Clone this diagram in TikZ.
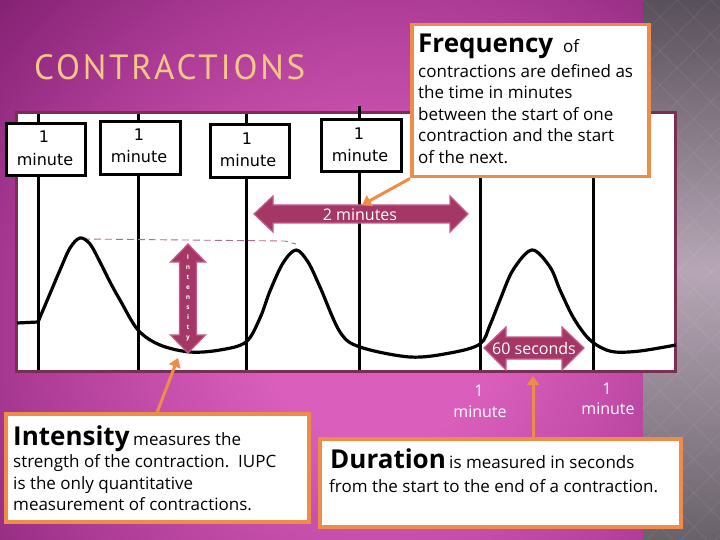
\documentclass[tikz,border=0pt]{standalone}
\usepackage{fontspec}
\setmainfont{Open Sans}
\newfontfamily\labfont{DejaVu Sans}
\newfontfamily\titlefont[LetterSpace=8]{PT Sans}
\usetikzlibrary{arrows.meta,calc}
\definecolor{bgdark}{HTML}{7B1B6B}
\definecolor{bgmid}{HTML}{AD3C97}
\definecolor{bglight}{HTML}{DA5FBC}
\definecolor{grayd}{HTML}{58505A}
\definecolor{grayl}{HTML}{B7A7B6}
\definecolor{panelc}{HTML}{7A2D55}
\definecolor{orangec}{HTML}{EE8C4A}
\definecolor{arrowc}{HTML}{A53767}
\definecolor{arrowe}{HTML}{C65C8C}
\definecolor{dashc}{HTML}{B3688F}
\definecolor{titlec}{HTML}{F6C887}
\pgfdeclareradialshading{bgshade}{\pgfpoint{0bp}{0bp}}{color(0bp)=(bglight); color(7bp)=(bglight); color(21bp)=(bgmid); color(33bp)=(bgdark); color(50bp)=(bgdark)}
\begin{document}
\begin{tikzpicture}[x=1pt,y=-1pt,
  minbox/.style={draw=black, line width=3, fill=white, inner sep=0},
  minlab/.style={font=\labfont\fontsize{16}{18}\selectfont, inner sep=0},
  obox/.style={draw=orangec, line width=3.5, fill=white, inner sep=0, anchor=north west},
  body/.style={font=\fontsize{17}{20}\selectfont, inner sep=0, anchor=base west},
  big/.style={font=\bfseries\fontsize{26}{30}\selectfont, inner sep=0, anchor=base west},
  vline/.style={line width=3, black},
  blockarrow/.style={fill=arrowc, draw=arrowe, line width=1.2},
  arrowtext/.style={font=\fontsize{16}{18}\selectfont, text=white, inner sep=0},
  callout/.style={draw=orangec, line width=3, -{Triangle[length=9,width=12]}},
  whitelab/.style={font=\fontsize{16}{18}\selectfont, text=white, inner sep=0}
]
\useasboundingbox (0,0) rectangle (720,540);
% background
\begin{scope}
\clip (0,0) rectangle (643,540);
\shade[shading=bgshade] (-40,-70) rectangle (800,730);
\end{scope}
\shade[top color=grayd, bottom color=grayd!90!white, middle color=grayl] (643,0) rectangle (720,540);
\begin{scope}
\clip (643,0) rectangle (720,540);
\foreach \k in {-20,...,20} {
  \draw[white, opacity=0.07, line width=0.8] (643+\k*34,0) -- ++(540,540);
  \draw[white, opacity=0.07, line width=0.8] (643+\k*34,0) -- ++(-540,540);
}
\end{scope}
% title
\node[font=\titlefont\fontsize{35}{38}\selectfont, text=titlec, inner sep=0, anchor=west] (title) at (34,67) {CONTRACTIONS};
% panel
\draw[line width=3, draw=panelc, fill=white] (16,113) rectangle (675,371);
% vertical lines
\foreach \x/\n in {38/a,138/b,246/c,480/e,593/f} {
  \coordinate (t\n) at (\x,114);
  \coordinate (b\n) at (\x,370);
  \draw[vline] (t\n) -- (b\n);
}
\coordinate (td) at (359,106);
\coordinate (bd) at (359,370);
\draw[vline] (td) -- (bd);
% minute boxes
\node[minbox, minimum width=79, minimum height=52, anchor=north west] (m1) at (5,122) {};
\node[minbox, minimum width=80, minimum height=53, anchor=north west] (m2) at (99,120) {};
\node[minbox, minimum width=79, minimum height=53, anchor=north west] (m3) at (209,123) {};
\node[minbox, minimum width=80, minimum height=52, anchor=north west] (m4) at (320,118) {};
\node[minlab] (m1a) at (44,137) {1};
\node[minlab] (m1b) at (45,160) {minute};
\node[minlab] (m2a) at (139,135) {1};
\node[minlab] (m2b) at (139,157) {minute};
\node[minlab] (m3a) at (247,139) {1};
\node[minlab] (m3b) at (248,161) {minute};
\node[minlab] (m4a) at (359,134) {1};
\node[minlab] (m4b) at (360,156) {minute};
% dashed level line
\coordinate (d1) at (83,239);
\coordinate (d2) at (285,241);
\coordinate (d3) at (296,244);
\draw[dashc, line width=0.9, dash pattern=on 7pt off 4pt] (d1) -- (d2) -- (d3);
% contraction curve
\draw[line width=3.2, black, line join=round] (17,323) -- (38,322)
  plot[smooth, tension=0.55] coordinates {(38,322) (49,296) (60,270) (70,248) (80,238) (90,244) (100,262) (110,282) (120,300) (138,330) (160,345) (190,352) (220,350) (246,342) (260,318) (270,291) (283,263) (296,250) (308,262) (320,287) (340,332) (360,347) (410,357) (450,353) (480,344) (490,325) (500,300) (513,270) (532,250) (550,267) (560,290) (573,317) (587,337) (600,347) (615,352) (640,351) (676,345)};
% 2 minutes arrow
\draw[blockarrow] (254,214) -- (273,196) -- (273,205) -- (450,205) -- (450,196) -- (468,214) -- (450,232) -- (450,223) -- (273,223) -- (273,232) -- cycle;
\node[arrowtext] (twomin) at (360,215) {2 minutes};
% 60 seconds arrow
\draw[blockarrow] (484,348) -- (506,327) -- (506,337) -- (562,337) -- (562,327) -- (584,348) -- (562,370) -- (562,359) -- (506,359) -- (506,370) -- cycle;
\node[arrowtext] (sixty) at (534,348) {60 seconds};
% intensity arrow
\draw[blockarrow] (188,244) -- (205.5,262) -- (196.5,262) -- (196.5,335) -- (205.5,335) -- (188,353) -- (170.5,335) -- (179.5,335) -- (179.5,262) -- (170.5,262) -- cycle;
\node[text=white, font=\bfseries\fontsize{6.5}{10}\selectfont, align=center, inner sep=0] (intlab) at (188,298) {I\\n\\t\\e\\n\\s\\i\\t\\y};
\coordinate (inttip) at (178,358);
\coordinate (twotip) at (362,205);
\coordinate (sixtip) at (533,376);
% white labels
\node[whitelab] (w1a) at (479,391) {1};
\node[whitelab] (w1b) at (480,412) {minute};
\node[whitelab] (w2a) at (607,389) {1};
\node[whitelab] (w2b) at (608,409) {minute};
% Frequency box
\node[obox, minimum width=237, minimum height=152] (freq) at (410,23) {};
\node[big] (fq1) at (418,53) {Frequency};
\node[body] (fq1b) at (563,53) {of};
\node[body] (fq2) at (418,78) {contractions are defined as};
\node[body] (fq3) at (418,99) {the time in minutes};
\node[body] (fq4) at (418,121) {between the start of one};
\node[body] (fq5) at (418,142) {contraction and the start};
\node[body] (fq6) at (418,164) {of the next.};
% Intensity box
\node[obox, minimum width=303, minimum height=108] (inten) at (4,412) {};
\node[big] (in1) at (13,445) {Intensity};
\node[body] (in1b) at (133,445) {measures the};
\node[body] (in2) at (13,467) {strength of the contraction.\ \ IUPC};
\node[body] (in3) at (13,489) {is the only quantitative};
\node[body] (in4) at (13,510) {measurement of contractions.};
% Duration box
\node[obox, minimum width=361, minimum height=88] (dur) at (318,437) {};
\node[big] (du1) at (330,468) {Duration};
\node[body] (du1b) at (449,468) {is measured in seconds};
\node[body] (du2) at (329,492) {from the start to the end of a contraction.};
% callouts
\draw[callout] (inten.north) -- (inttip);
\draw[callout] (freq.south west) -- (twotip);
\draw[callout] ($(dur.north west)+(215,0)$) -- (sixtip);
\end{tikzpicture}
\end{document}
